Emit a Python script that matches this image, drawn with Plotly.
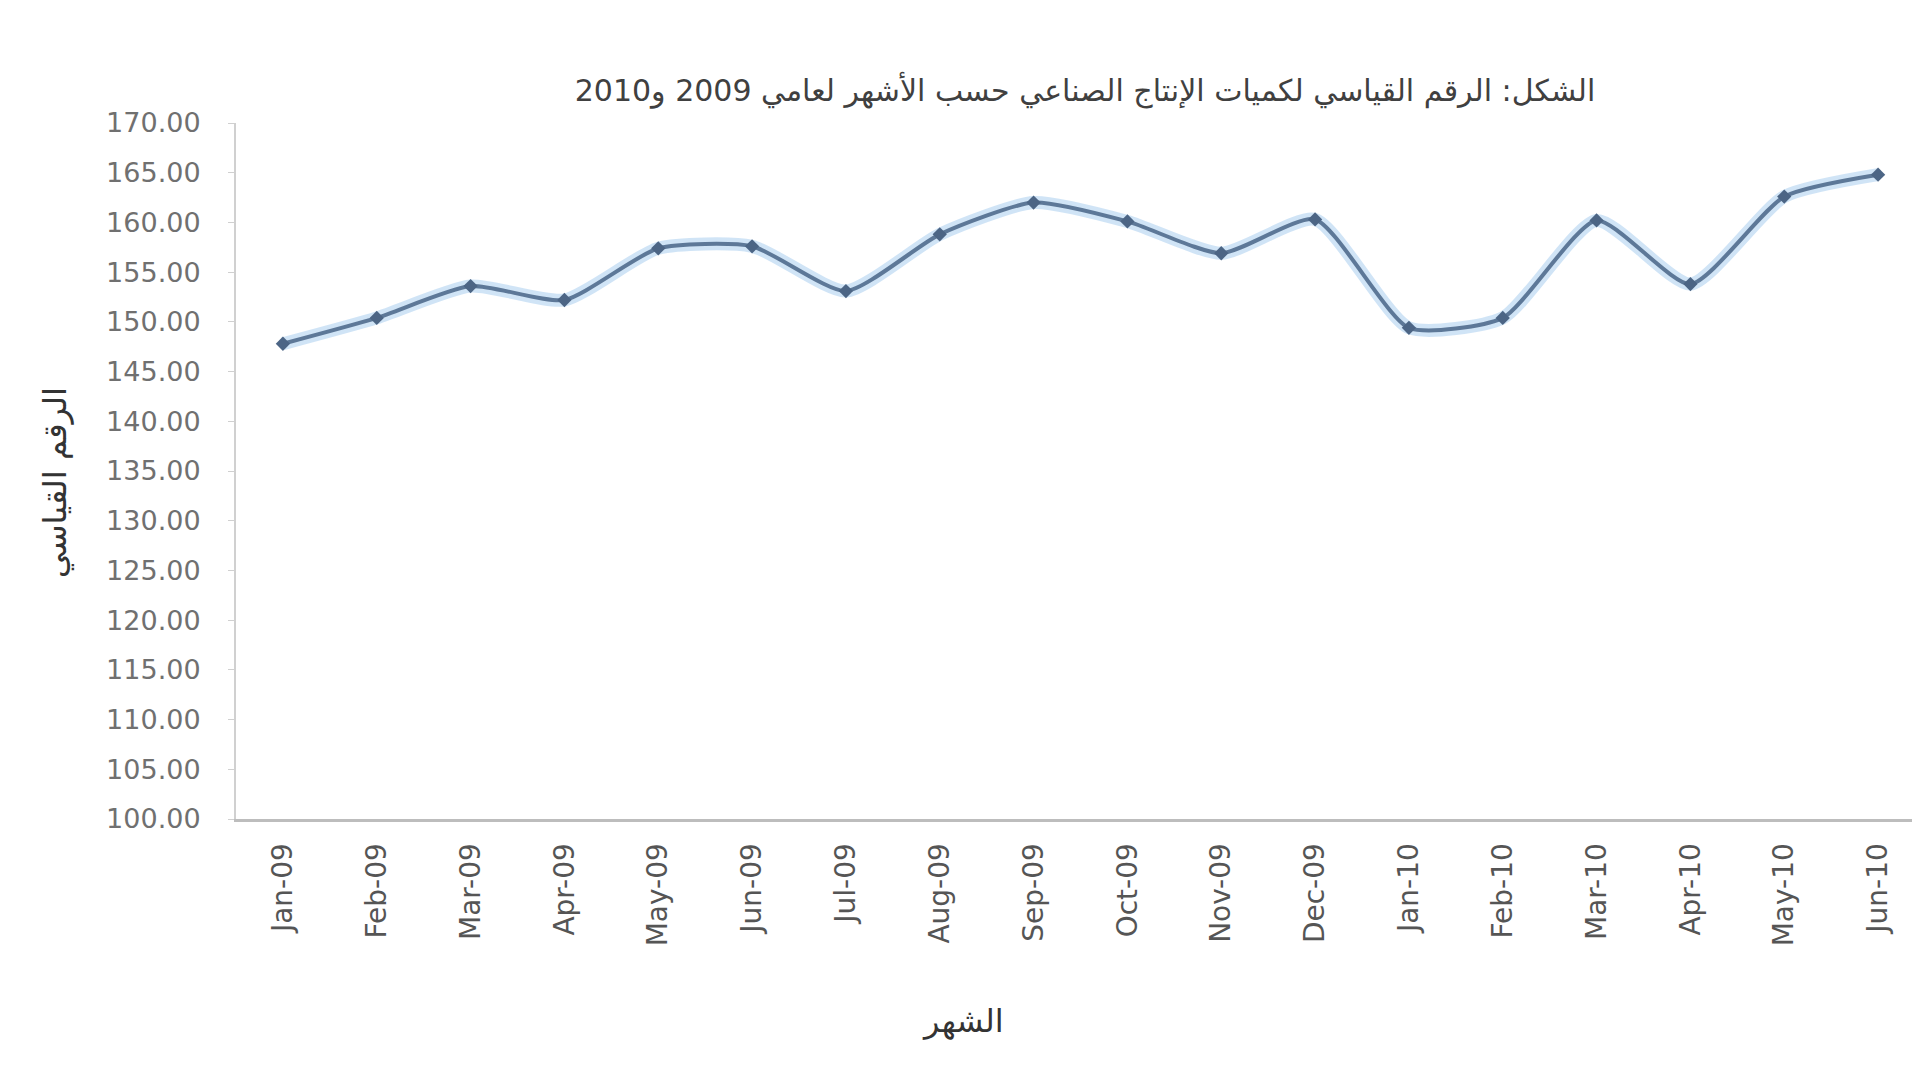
import plotly.graph_objects as go

title_text = "الشكل: الرقم القياسي لكميات الإنتاج الصناعي حسب الأشهر لعامي 2009 و2010"
y_title = "الرقم القياسي"
x_title = "الشهر"

months = ["Jan-09", "Feb-09", "Mar-09", "Apr-09", "May-09", "Jun-09", "Jul-09", "Aug-09", "Sep-09",
          "Oct-09", "Nov-09", "Dec-09", "Jan-10", "Feb-10", "Mar-10", "Apr-10", "May-10", "Jun-10"]
index_values = [147.8, 150.4, 153.6, 152.2, 157.4, 157.6, 153.1, 158.8, 162.0,
                160.1, 156.9, 160.3, 149.4, 150.4, 160.2, 153.8, 162.6, 164.8]
y_ticks = [100, 105, 110, 115, 120, 125, 130, 135, 140, 145, 150, 155, 160, 165, 170]

L, R, T, B = 228, 3, 115, 269
PW, PH = 1920 - L - R, 1080 - T - B

fig = go.Figure()
# soft glow under the line
fig.add_trace(go.Scatter(x=months, y=index_values, mode="lines",
                         line=dict(color="rgba(150,195,235,0.45)", width=13, shape="spline", smoothing=0.6),
                         hoverinfo="skip", showlegend=False))
fig.add_trace(go.Scatter(x=months, y=index_values, mode="lines+markers",
                         line=dict(color="#5d7898", width=4, shape="spline", smoothing=0.6),
                         marker=dict(symbol="diamond", size=11, color="#4c6585"),
                         showlegend=False))

fig.update_layout(
    width=1920, height=1080,
    paper_bgcolor="white", plot_bgcolor="white",
    margin=dict(l=L, r=R, t=T, b=B),
    font=dict(family="DejaVu Sans", color="#555555"),
    title=dict(text=title_text, x=1077/1920, xanchor="center", xref="container",
               y=1 - 82/1080, yanchor="middle", yref="container",
               font=dict(size=30, color="#404040", family="DejaVu Sans")),
    showlegend=False,
)
fig.update_xaxes(type="category", range=[-0.5, len(months) - 0.5], tickangle=-90, showgrid=False,
                 showline=True, linecolor="#bdbdbd", linewidth=3, automargin=False,
                 tickfont=dict(size=28, color="#555555"), ticks="", ticklen=0,
                 ticklabelstandoff=10)
fig.update_yaxes(range=[100, 170], tickvals=y_ticks, tickformat=".2f", showgrid=False,
                 showline=True, linecolor="#d0d0d0", linewidth=2, ticks="outside",
                 tickcolor="#d0d0d0", ticklen=6, zeroline=False, automargin=False,
                 ticklabelstandoff=22,
                 tickfont=dict(size=27, color="#707070"))

fig.add_annotation(text=y_title, xref="paper", yref="paper", x=(47 - L) / PW, y=1 - (475 - T) / PH,
                   xanchor="center", yanchor="middle", textangle=-90, showarrow=False,
                   font=dict(size=32, color="#333333", family="DejaVu Sans"))
fig.add_annotation(text=x_title, xref="paper", yref="paper",
                   x=(955 - L) / PW, y=-(1013 - (T + PH)) / PH,
                   xanchor="center", yanchor="middle", showarrow=False,
                   font=dict(size=32, color="#333333", family="DejaVu Sans"))

fig.write_html("out.html")
